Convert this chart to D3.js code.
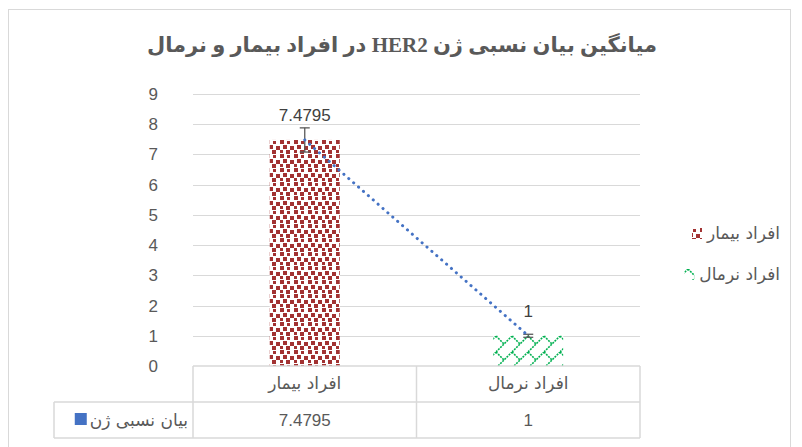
<!DOCTYPE html>
<html>
<head>
<meta charset="utf-8">
<script src="https://cdn.jsdelivr.net/npm/d3@7"></script>
<style>
  body { margin: 0; background: #fff; }
  text { fill: #595959; }
</style>
</head>
<body>
<div id="chart"></div>
<script>
/* HER2 relative expression, patients vs normal */

const categories = ["افراد بیمار", "افراد نرمال"];
const values = [7.4795, 1];
const errors = [0.4, 0.05];
const yTicks = [0, 1, 2, 3, 4, 5, 6, 7, 8, 9];
const seriesName = "بیان نسبی ژن";
const title = "میانگین بیان نسبی ژن HER2 در افراد بیمار و نرمال";

const width = 802,
      height = 447,
      margin = ({ top: 94, right: 162, bottom: 81, left: 193 });

let svg = d3.select("#chart")
    .append("svg")
    .attr("width", width)
    .attr("height", height);

let defs = svg.append("defs");

// confetti pattern for the patient bar
let p1 = defs.append("pattern")
    .attr("id", "confetti")
    .attr("patternUnits", "userSpaceOnUse")
    .attr("width", 14).attr("height", 14);
p1.append("rect").attr("width", 14).attr("height", 14).attr("fill", "#fff");
[[0, 0, 4], [7, 1, 3], [3, 5, 4], [10, 6, 4], [0, 10, 3], [6, 10, 4]].forEach(([a, b, s]) => {
    p1.append("rect").attr("x", a).attr("y", b)
        .attr("width", s).attr("height", s).attr("fill", "#a23232");
});

// zig-zag trellis for the normal bar
let p2 = defs.append("pattern")
    .attr("id", "trellis")
    .attr("patternUnits", "userSpaceOnUse")
    .attr("width", 16).attr("height", 16);
p2.append("rect").attr("width", 16).attr("height", 16).attr("fill", "#fff");
p2.append("path")
    .attr("d", "M0,16 L16,0 M-2,2 L2,-2 M14,18 L18,14 M0,0 L8,8")
    .attr("stroke", "#00b050").attr("stroke-width", 1.6)
    .attr("stroke-dasharray", "2,1").attr("fill", "none");

const fills = ["url(#confetti)", "url(#trellis)"];

// outer chart frame
svg.append("rect")
    .attr("x", 8.5).attr("y", 9.5)
    .attr("width", 782).attr("height", 460)
    .attr("fill", "none").attr("stroke", "#d9d9d9");

let x = d3.scaleBand()
    .domain(categories)
    .range([margin.left, width - margin.right]);

let y = d3.scaleLinear()
    .domain([0, 9])
    .range([height - margin.bottom, margin.top]);

// gridlines
svg.append("g")
    .selectAll("line")
    .data(yTicks.slice(1))
    .join("line")
    .attr("x1", margin.left).attr("x2", width - margin.right)
    .attr("y1", d => Math.round(y(d)) + 0.5).attr("y2", d => Math.round(y(d)) + 0.5)
    .attr("stroke", "#d9d9d9");

// y labels
svg.append("g")
    .selectAll("text")
    .data(yTicks)
    .join("text")
    .attr("x", 158)
    .attr("y", d => y(d) + 6)
    .attr("text-anchor", "end")
    .style("font-family", "Liberation Sans, sans-serif")
    .style("font-size", "17px")
    .text(d => d);

const barW = x.bandwidth() * 0.313;

svg.append("g")
    .selectAll("rect")
    .data(values)
    .join("rect")
    .attr("x", (d, i) => x(categories[i]) + x.bandwidth() / 2 - barW / 2)
    .attr("width", barW)
    .attr("y", d => y(d))
    .attr("height", d => y(0) - y(d))
    .attr("fill", (d, i) => fills[i]);

// error bars
let err = svg.append("g")
    .attr("stroke", "#595959").attr("stroke-width", 1.3);
values.forEach((v, i) => {
    let cx = x(categories[i]) + x.bandwidth() / 2;
    err.append("line").attr("x1", cx).attr("x2", cx)
        .attr("y1", y(v + errors[i])).attr("y2", y(v - errors[i]));
    [v + errors[i], v - errors[i]].forEach(e => {
        err.append("line").attr("x1", cx - 5).attr("x2", cx + 5)
            .attr("y1", y(e)).attr("y2", y(e));
    });
});

// dotted series line
let line = d3.line()
    .x((d, i) => x(categories[i]) + x.bandwidth() / 2)
    .y(d => y(d));

svg.append("path")
    .datum(values)
    .attr("d", line)
    .attr("fill", "none")
    .attr("stroke", "#4472c4")
    .attr("stroke-width", 3)
    .attr("stroke-linecap", "round")
    .attr("stroke-dasharray", "0.1,6.4");

// data labels
svg.append("g")
    .selectAll("text")
    .data(values)
    .join("text")
    .attr("x", (d, i) => x(categories[i]) + x.bandwidth() / 2)
    .attr("y", d => y(d) - 19)
    .attr("text-anchor", "middle")
    .style("font-family", "Liberation Sans, sans-serif")
    .style("font-size", "17px")
    .style("fill", "#404040")
    .text(d => d);

// title
svg.append("text")
    .attr("x", 402)
    .attr("y", 52)
    .attr("text-anchor", "middle")
    .style("font-family", "Liberation Serif, DejaVu Sans, serif")
    .style("font-weight", "bold")
    .style("font-size", "21px")
    .attr("direction", "rtl")
    .text(title);

// data table
const tLeft = 54, tTop = y(0), rowH = 36;
let tbl = svg.append("g")
    .attr("stroke", "#d9d9d9").attr("stroke-width", 1.5);
tbl.append("line").attr("x1", margin.left).attr("x2", width - margin.right)
    .attr("y1", tTop).attr("y2", tTop);
tbl.append("line").attr("x1", tLeft).attr("x2", width - margin.right)
    .attr("y1", tTop + rowH).attr("y2", tTop + rowH);
tbl.append("line").attr("x1", tLeft).attr("x2", width - margin.right)
    .attr("y1", tTop + rowH * 2).attr("y2", tTop + rowH * 2);
tbl.append("line").attr("x1", tLeft).attr("x2", tLeft)
    .attr("y1", tTop + rowH).attr("y2", tTop + rowH * 2);
[margin.left, margin.left + x.bandwidth(), width - margin.right].forEach(px => {
    tbl.append("line").attr("x1", px).attr("x2", px)
        .attr("y1", tTop).attr("y2", tTop + rowH * 2);
});

svg.append("g")
    .selectAll("text")
    .data(categories)
    .join("text")
    .attr("x", d => x(d) + x.bandwidth() / 2)
    .attr("y", tTop + 23)
    .attr("text-anchor", "middle")
    .style("font-family", "DejaVu Sans, sans-serif")
    .style("font-size", "17px")
    .text(d => d);

svg.append("g")
    .selectAll("text")
    .data(values)
    .join("text")
    .attr("x", (d, i) => x(categories[i]) + x.bandwidth() / 2)
    .attr("y", tTop + rowH + 24)
    .attr("text-anchor", "middle")
    .style("font-family", "Liberation Sans, sans-serif")
    .style("font-size", "17px")
    .text(d => d);

let seriesLabel = svg.append("text")
    .attr("x", 188).attr("y", tTop + rowH + 24)
    .attr("text-anchor", "end")
    .style("font-family", "DejaVu Sans, sans-serif")
    .style("font-size", "17px")
    .text(seriesName);
let sw = seriesLabel.node().getComputedTextLength();
svg.append("rect")
    .attr("x", 188 - sw - 15).attr("y", tTop + rowH + 11)
    .attr("width", 12).attr("height", 12)
    .attr("fill", "#4472c4");

// legend
let legend = svg.append("g")
    .selectAll("g")
    .data(categories)
    .join("g")
    .attr("transform", (d, i) => `translate(0,${228 + i * 41})`);
legend.append("text")
    .attr("x", 780).attr("y", 11)
    .attr("text-anchor", "end")
    .style("font-family", "DejaVu Sans, sans-serif")
    .style("font-size", "17px")
    .text(d => d);
legend.insert("rect", "text")
    .attr("x", function() {
        return 780 - this.parentNode.querySelector("text").getComputedTextLength() - 15;
    })
    .attr("width", 10).attr("height", 11)
    .attr("fill", (d, i) => fills[i]);
</script>
</body>
</html>
